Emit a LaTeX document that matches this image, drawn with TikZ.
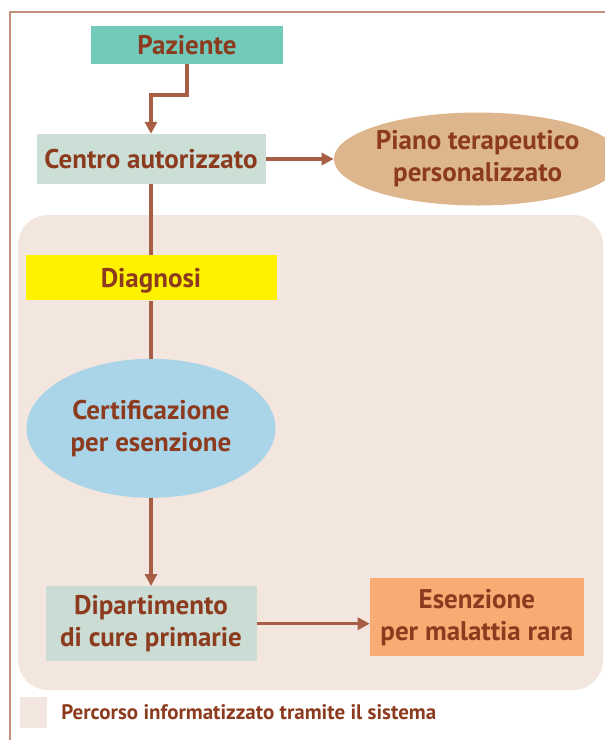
\documentclass[tikz,border=0pt]{standalone}
\usepackage{fontspec}
\setmainfont{PT Sans}
\usetikzlibrary{positioning,shapes.geometric,arrows.meta}

\definecolor{testo}{HTML}{8C3B1F}
\definecolor{linea}{HTML}{A85E45}
\definecolor{cornice}{HTML}{C4907A}
\definecolor{pazfill}{HTML}{72CABB}
\definecolor{centrofill}{HTML}{CCDFD6}
\definecolor{pianofill}{HTML}{DDB68D}
\definecolor{zonafill}{HTML}{F3E6DE}
\definecolor{diagfill}{HTML}{FFF200}
\definecolor{certfill}{HTML}{AAD5E8}
\definecolor{dipfill}{HTML}{CADCD3}
\definecolor{esenfill}{HTML}{F6AC73}

\tikzset{
	blocco/.style={rectangle, inner sep=0pt, align=center, text=testo,
		font=\fontsize{27}{32}\selectfont\bfseries},
	ovale/.style={ellipse, inner sep=0pt, align=center, text=testo,
		font=\fontsize{27}{32}\selectfont\bfseries},
	freccia/.style={draw=linea, line width=3.5pt, -{Triangle[length=12pt,width=12pt]}},
	tratto/.style={draw=linea, line width=3.5pt},
}

\begin{document}
\begin{tikzpicture}[x=1pt,y=-1pt]
		\useasboundingbox (0,0) rectangle (605,740);
		\draw[cornice, line width=1.8pt] (10,740) -- (10,12) -- (605,12);
		\fill[zonafill, rounded corners=30pt] (18,215) rectangle (603,690);

		\node[blocco, fill=pazfill, minimum width=192pt, minimum height=38pt] (paz) at (187,45) {Paziente};
		\node[blocco, fill=centrofill, minimum width=229pt, minimum height=50pt] (centro) at (151,159) {Centro autorizzato};
		\node[ovale, fill=pianofill, minimum width=266pt, minimum height=93pt, right=68pt of centro] (piano) {Piano terapeutico\\personalizzato};
		\node[blocco, fill=diagfill, minimum width=251pt, minimum height=45pt, text depth=0pt, below=71pt of centro] (diag) {Diagnosi};
		\node[ovale, fill=certfill, minimum width=249pt, minimum height=139pt, below=58pt of diag] (cert) {Certificazione\\per esenzione};
		\node[blocco, fill=dipfill, minimum width=211pt, minimum height=75pt, below=88pt of cert] (dip) {Dipartimento\\di cure primarie};
		\node[blocco, fill=esenfill, minimum width=214pt, minimum height=78pt, right=113pt of dip, yshift=6.5pt] (esen) {Esenzione\\per malattia rara};

		\node[fill=zonafill, minimum width=27pt, minimum height=31pt, inner sep=0pt] (leg) at (33.5,712.5) {};
		\node[text=testo, font=\fontsize{21}{25}\selectfont\bfseries, right=14pt of leg, inner sep=0pt] (legtxt) {Percorso informatizzato tramite il sistema};

		\coordinate (gomito1) at (paz.south |- 0,95);
		\coordinate (gomito2) at (centro.north |- 0,95);
		\draw[freccia] (paz.south) -- (gomito1) -- (gomito2) -- (centro.north);
		\draw[freccia] (centro.east) -- (piano.west);
		\draw[tratto] (centro.south) -- (diag.north);
		\draw[tratto] (diag.south) -- (cert.north);
		\draw[freccia] (cert.south) -- (dip.north);
		\draw[freccia] (dip.east) -- (dip.east -| esen.west);
	\end{tikzpicture}
\end{document}
